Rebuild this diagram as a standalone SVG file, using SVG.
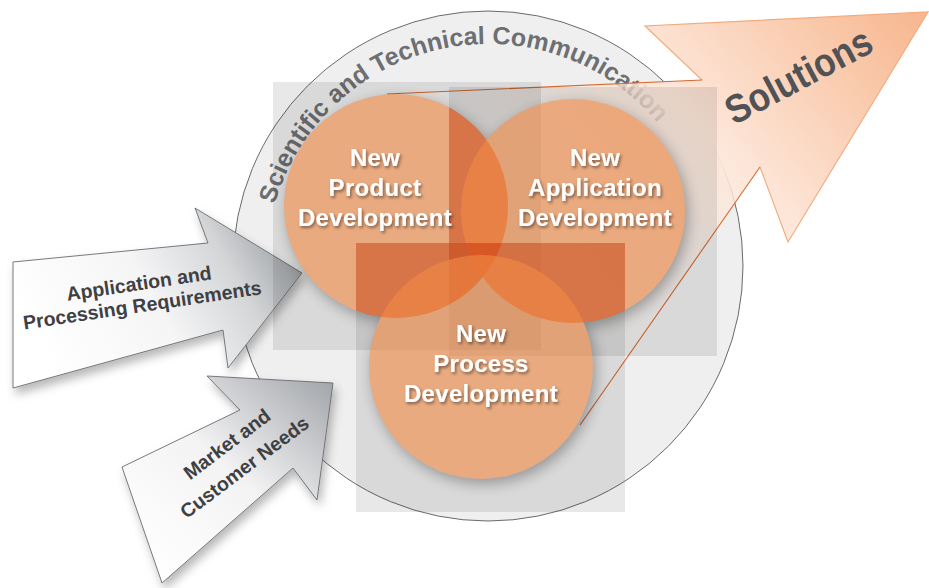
<svg xmlns="http://www.w3.org/2000/svg" xmlns:xlink="http://www.w3.org/1999/xlink" width="929" height="588" viewBox="0 0 929 588">
<defs>
<style>
.lbl{font-family:"Liberation Sans",Arial,sans-serif;font-weight:bold}
.node-t{fill:#ffffff;font-size:24px;letter-spacing:0.3px;text-anchor:middle}
.arr-t{fill:#3f4042;font-size:19.5px;text-anchor:middle}
.box{fill:#000000;fill-opacity:0.09}
.circ{fill:#f38b45;fill-opacity:0.6}
.ov{fill:#da4d1c;fill-opacity:0.5}
.larrow{stroke:#6a6b6e;stroke-width:0.9}
</style>
<linearGradient id="solG" gradientUnits="userSpaceOnUse" x1="930" y1="10" x2="500" y2="380">
<stop offset="0" stop-color="#f7b58c"/>
<stop offset="0.44" stop-color="#fde7da"/>
<stop offset="0.58" stop-color="#fde5d6" stop-opacity="0.4"/>
<stop offset="0.85" stop-color="#ffffff" stop-opacity="0"/>
</linearGradient>
<linearGradient id="a1G" gradientUnits="userSpaceOnUse" x1="60" y1="380" x2="295" y2="245">
<stop offset="0" stop-color="#ffffff"/>
<stop offset="0.45" stop-color="#f5f5f6"/>
<stop offset="0.75" stop-color="#d3d5d7"/>
<stop offset="1" stop-color="#9a9da1"/>
</linearGradient>
<linearGradient id="a2G" gradientUnits="userSpaceOnUse" x1="160" y1="580" x2="330" y2="385">
<stop offset="0" stop-color="#ffffff"/>
<stop offset="0.5" stop-color="#f3f3f4"/>
<stop offset="1" stop-color="#a5a8ac"/>
</linearGradient>
<filter id="ts" x="-20%" y="-40%" width="140%" height="180%">
<feDropShadow dx="1.5" dy="2" stdDeviation="1.6" flood-color="#000" flood-opacity="0.45"/>
</filter>
<filter id="as" x="-20%" y="-20%" width="140%" height="150%">
<feDropShadow dx="3" dy="6" stdDeviation="5" flood-color="#000" flood-opacity="0.28"/>
</filter>
<filter id="blur" x="-30%" y="-30%" width="160%" height="160%">
<feGaussianBlur stdDeviation="7"/>
</filter>
<clipPath id="clipB"><rect x="449" y="87" width="268" height="269"/></clipPath>
<clipPath id="clipC"><rect x="356" y="243" width="269" height="269"/></clipPath>
<mask id="outC" maskUnits="userSpaceOnUse" x="0" y="0" width="929" height="588">
<rect x="0" y="0" width="929" height="588" fill="#fff"/>
<circle cx="396" cy="206" r="112" fill="#000"/>
<circle cx="573" cy="211" r="112" fill="#000"/>
<circle cx="481" cy="367" r="112" fill="#000"/>
</mask>
<path id="arc" d="M 266 266 A 222 222 0 0 1 690.8 175.7" fill="none"/>
</defs>

<g id="communication-ring">
<circle cx="488" cy="266" r="255" fill="#efefef" stroke="#6a6a6a" stroke-width="1"/>
<text class="lbl" font-size="25" fill="#6e6f72"><textPath xlink:href="#arc" href="#arc" startOffset="50%" text-anchor="middle">Scientific and Technical Communication</textPath></text>
</g>

<g id="solutions">
<path d="M387,94 L702,80 L645,26 L928,12 L788,242 L760,167 L580,425 Z" fill="url(#solG)"/>
<polyline points="702,80 645,26 928,12 788,242 760,167" fill="none" stroke="#f2ab7e" stroke-width="1.2"/>
<path d="M387,94 L702,80 M760,167 L580,425" fill="none" stroke="#d66a30" stroke-width="1.1"/>
<text class="lbl" font-size="40" fill="#505255" text-anchor="middle" textLength="160" lengthAdjust="spacingAndGlyphs" transform="translate(805,88) rotate(-28)">Solutions</text>
</g>

<g id="application-requirements">
<path class="larrow" d="M13,262 L208,243 L195,208 L302,273 L228,368 L223,330 L13,388 Z" fill="url(#a1G)" filter="url(#as)"/>
<g class="lbl arr-t" transform="translate(140.5,294) rotate(-8.5)">
<text x="0" y="-4">Application and</text>
<text x="0" y="18">Processing Requirements</text>
</g>
</g>

<g id="market-needs">
<path class="larrow" d="M122,467 L240,410 L207,376 L333,383 L317,500 L293,468 L162,583 Z" fill="url(#a2G)" filter="url(#as)"/>
<g class="lbl arr-t" transform="translate(235.5,455.5) rotate(-37)">
<text x="0" y="-7.5">Market and</text>
<text x="0" y="21.5">Customer Needs</text>
</g>
</g>

<g id="new-product-development">
<rect class="box" x="273" y="82" width="268" height="268"/>
<circle class="circ" cx="396" cy="206" r="112"/>
</g>

<g id="new-application-development">
<rect class="box" x="449" y="87" width="268" height="269"/>
<g clip-path="url(#clipB)"><circle class="ov" cx="396" cy="206" r="112"/></g>
<circle class="circ" cx="573" cy="211" r="112"/>
</g>

<g id="new-process-development">
<rect class="box" x="356" y="243" width="269" height="269"/>
<g clip-path="url(#clipC)"><circle class="ov" cx="396" cy="206" r="112"/><circle class="ov" cx="573" cy="211" r="112"/></g>
<circle class="circ" cx="481" cy="367" r="112"/>
</g>

<g id="circle-shadows" mask="url(#outC)" opacity="0.3">
<g filter="url(#blur)" fill="#000">
<circle cx="399" cy="211" r="112"/>
<circle cx="576" cy="216" r="112"/>
<circle cx="484" cy="372" r="112"/>
</g>
</g>

<g id="node-labels" class="lbl node-t" filter="url(#ts)">
<text x="375" y="166">New</text>
<text x="375" y="196">Product</text>
<text x="375" y="226">Development</text>
<text x="595" y="166">New</text>
<text x="595" y="196">Application</text>
<text x="595" y="226">Development</text>
<text x="481" y="342">New</text>
<text x="481" y="372">Process</text>
<text x="481" y="402">Development</text>
</g>
</svg>
